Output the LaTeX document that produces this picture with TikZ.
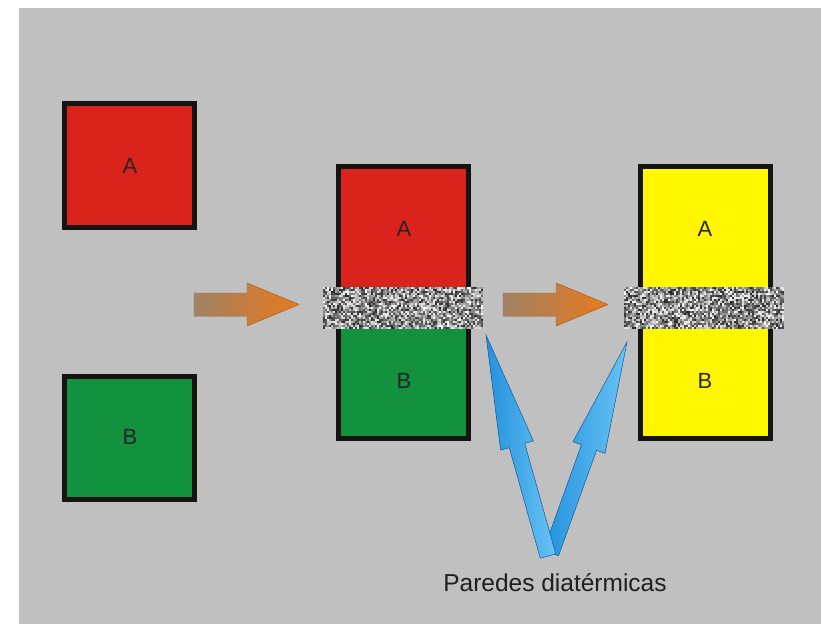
\documentclass[tikz,border=0pt]{standalone}
\usepackage{fontspec}
\setmainfont{Liberation Sans}
\usetikzlibrary{calc}
\definecolor{bggray}{RGB}{192,192,192}
\definecolor{boxred}{RGB}{218,35,27}
\definecolor{boxgreen}{RGB}{18,146,62}
\definecolor{boxyellow}{RGB}{255,246,0}
\definecolor{edgeblack}{RGB}{22,20,18}
\definecolor{arrbrown}{RGB}{160,130,100}
\definecolor{arrorange}{RGB}{232,122,28}
\definecolor{arredge}{RGB}{190,100,30}
\definecolor{bluedark}{RGB}{35,145,220}
\definecolor{bluelight}{RGB}{105,195,245}
\definecolor{blueedge}{RGB}{30,105,170}
\tikzset{
  boxnode/.style={draw=edgeblack, line width=5pt, rectangle, inner sep=0pt, minimum width=130pt},
  letter/.style={font=\fontsize{22}{26}\selectfont, text=black!85},
  wallnode/.style={rectangle, inner sep=0pt, minimum width=159pt, minimum height=42pt},
  orangearrow/.style={left color=arrbrown, right color=arrorange, draw=arredge, line width=0.4pt},
  bluearrow/.style={left color=bluedark, right color=bluelight, draw=blueedge, line width=0.5pt}
}
\newcommand{\noisefill}[1]{%
  \begin{scope}[shift={(#1.north west)}]
    \foreach \i in {0,2,...,158}{
      \foreach \j in {0,2,...,40}{
        \pgfmathsetmacro\g{int(15+rnd*85)}
        \fill[white!\g!black] (\i,\j) rectangle ++(2,2);
      }
    }
  \end{scope}}
\newcommand{\blueshape}[2]{%
  \path ($(#1)!0.5!(#2)$) coordinate (H);
  \fill[bluearrow]
    ($(#1)!8pt!90:(#2)$) -- ($(H)!8pt!90:(#2)$) -- ($(H)!17pt!90:(#2)$) --
    (#2) -- ($(H)!17pt!-90:(#2)$) -- ($(H)!8pt!-90:(#2)$) --
    ($(#1)!8pt!-90:(#2)$) -- cycle;}
\begin{document}
\begin{tikzpicture}[x=1pt,y=-1pt]
\pgfmathsetseed{7}
\useasboundingbox (0,0) rectangle (821,624);
\fill[white] (0,0) rectangle (821,624);
\fill[bggray] (19,8) rectangle (821,624);

% left separate boxes
\node[boxnode, fill=boxred, minimum height=124pt] (A1) at (129.5,165.5) {};
\node[letter] (tA1) at (130,166) {A};
\node[boxnode, fill=boxgreen, minimum height=123pt] (B1) at (129.5,438) {};
\node[letter] (tB1) at (130,437) {B};

% middle column
\node[boxnode, fill=boxred, minimum height=136pt] (A2) at (403.5,234.5) {};
\node[boxnode, fill=boxgreen, minimum height=136pt] (B2) at (403.5,370.5) {};
\node[letter] (tA2) at (404,229) {A};
\node[letter] (tB2) at (404,381) {B};
\node[wallnode] (W1) at (402.5,308) {};
\noisefill{W1}

% right column
\node[boxnode, fill=boxyellow, minimum height=136pt] (A3) at (705.5,234.5) {};
\node[boxnode, fill=boxyellow, minimum height=136pt] (B3) at (705.5,370.5) {};
\node[letter] (tA3) at (705,229) {A};
\node[letter] (tB3) at (705,381) {B};
\node[wallnode] (W2) at (703.5,308) {};
\noisefill{W2}

% orange arrows
\fill[orangearrow] (194,293) -- (247,293) -- (247,283) -- (299,304.5) -- (247,326) -- (247,316) -- (194,316) -- cycle;
\fill[orangearrow] (503,293) -- (556,293) -- (556,283) -- (608,304.5) -- (556,326) -- (556,316) -- (503,316) -- cycle;

% blue arrows
\coordinate (b1) at (548,556);
\coordinate (t1) at (486,335);
\coordinate (b2) at (551,553);
\coordinate (t2) at (627,342);
\blueshape{b2}{t2}
\blueshape{b1}{t1}

% label
\node[font=\fontsize{24.5}{28}\selectfont, text=black!88] (lbl) at (555,583) {Paredes diatérmicas};
\end{tikzpicture}
\end{document}
